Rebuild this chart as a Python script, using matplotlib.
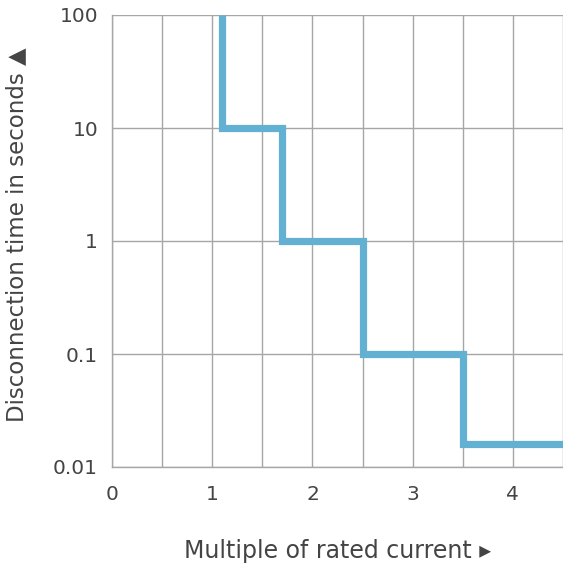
import numpy as np
import matplotlib.pyplot as plt

# trip curve: multiple of rated current vs disconnection time
current_multiple = [1.1, 1.1, 1.7, 1.7, 2.5, 2.5, 3.5, 3.5, 4.5]
disconnect_time = [100, 10, 10, 1, 1, 0.1, 0.1, 0.016, 0.016]

x_ticks = [0, 1, 2, 3, 4]
y_ticks = [0.01, 0.1, 1, 10, 100]
y_tick_labels = ["0.01", "0.1", "1", "10", "100"]

text_color = "#444444"
grid_color = "#a6a6a6"
line_color = "#62b0d2"

plt.rcParams['font.family'] = ['DejaVu Sans']

fig = plt.figure(figsize=(5.63, 5.68), dpi=100)
ax = fig.add_axes([112 / 563, 1 - 467 / 568, 1 - 112 / 563, (467 - 15) / 568])

ax.plot(current_multiple, disconnect_time, color=line_color, linewidth=5.2,
        solid_joinstyle='miter', solid_capstyle='butt', zorder=3)

ax.set_yscale('log')
ax.set_xlim(0, 4.5)
ax.set_ylim(0.01, 100)

ax.set_xticks(x_ticks)
ax.set_xticks(np.arange(0, 4.51, 0.5), minor=True)
ax.set_yticks(y_ticks)
ax.set_yticklabels(y_tick_labels)
ax.yaxis.set_minor_locator(plt.NullLocator())

ax.grid(True, which='both', axis='x', color=grid_color, linewidth=1.0)
ax.grid(True, which='major', axis='y', color=grid_color, linewidth=1.0)
ax.set_axisbelow(True)

ax.tick_params(axis='both', which='both', length=0, labelsize=14.5, labelcolor=text_color)
ax.tick_params(axis='x', pad=13)
ax.tick_params(axis='y', pad=10)

for side in ['top', 'right']:
    ax.spines[side].set_visible(False)
for side in ['left', 'bottom']:
    ax.spines[side].set_color(grid_color)
    ax.spines[side].set_linewidth(1.0)

ax.set_xlabel("Multiple of rated current \u25b8", fontsize=17, color=text_color, labelpad=25)
ax.set_ylabel("Disconnection time in seconds \u25b2", fontsize=16.5, color=text_color)
ax.yaxis.set_label_coords(-0.185, 0.513)

fig.savefig("out.png", dpi=100)
